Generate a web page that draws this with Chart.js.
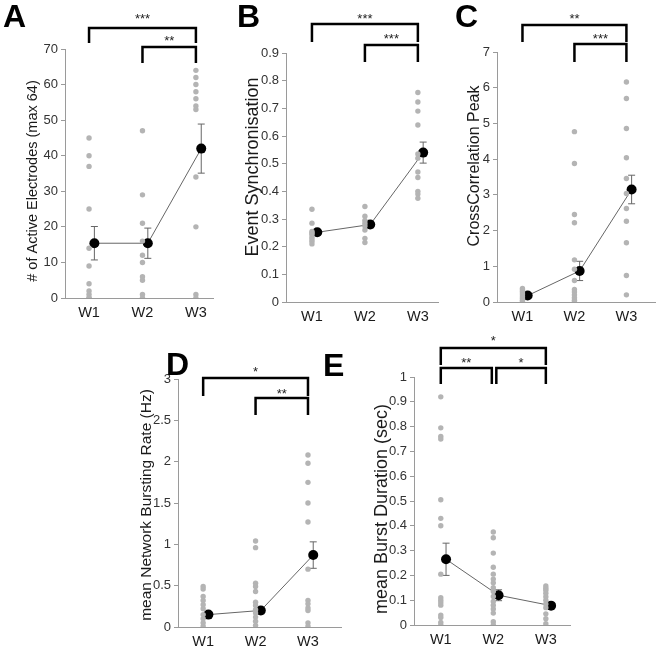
<!DOCTYPE html>
<html><head><meta charset="utf-8">
<script src="https://cdn.jsdelivr.net/npm/chart.js@4.4.1/dist/chart.umd.min.js"></script>
<style>
html,body{margin:0;padding:0;background:#fff;width:660px;height:648px;overflow:hidden}
canvas{position:absolute;left:0;top:0}
</style></head><body>
<canvas id="cA" width="660" height="648"></canvas>
<canvas id="cB" width="660" height="648"></canvas>
<canvas id="cC" width="660" height="648"></canvas>
<canvas id="cD" width="660" height="648"></canvas>
<canvas id="cE" width="660" height="648"></canvas>
<script>
// ---- data ----
const categories = ['W1', 'W2', 'W3'];

const aW1 = [45, 40, 37, 25, 14, 9, 4, 2, 1, 0, 0];
const aW2 = [47, 29, 21, 16, 12, 10, 6, 5, 1, 0];
const aW3 = [64, 62, 60, 58, 56, 54, 53, 34, 20, 1, 0];
const aMean = [15.4, 15.4, 42];
const aSem = [4.7, 4.25, 6.9];

const bW1 = [0.335, 0.285, 0.255, 0.25, 0.245, 0.235, 0.228, 0.22, 0.21];
const bW2 = [0.345, 0.31, 0.295, 0.285, 0.275, 0.26, 0.23, 0.215];
const bW3 = [0.757, 0.723, 0.69, 0.64, 0.535, 0.52, 0.47, 0.45, 0.4, 0.39, 0.375];
const bMean = [0.252, 0.28, 0.54];
const bSem = [0.008, 0.012, 0.038];

const cW1 = [0.38, 0.34, 0.3, 0.25, 0.2, 0.15, 0.1, 0.05, 0.02];
const cW2 = [4.77, 3.88, 2.45, 2.22, 1.18, 0.92, 0.6, 0.35, 0.28, 0.2, 0.12, 0.05, 0.01];
const cW3 = [6.16, 5.7, 4.86, 4.04, 3.46, 3.04, 2.62, 2.26, 1.66, 0.74, 0.2];
const cMean = [0.18, 0.87, 3.15];
const cSem = [0.04, 0.27, 0.4];

const dW1 = [0.49, 0.46, 0.37, 0.32, 0.27, 0.22, 0.15, 0.1, 0.05, 0.01];
const dW2 = [1.04, 0.96, 0.53, 0.49, 0.43, 0.3, 0.26, 0.21, 0.17, 0.12, 0.07, 0.02];
const dW3 = [2.08, 1.98, 1.75, 1.5, 1.27, 0.7, 0.32, 0.28, 0.23, 0.2, 0.05, 0.01];
const dMean = [0.15, 0.2, 0.87];
const dSem = [0.03, 0.04, 0.16];

const eW1 = [0.92, 0.795, 0.76, 0.75, 0.505, 0.43, 0.4, 0.205, 0.11, 0.1, 0.09, 0.08, 0.04, 0.03, 0.01, 0];
const eW2 = [0.375, 0.352, 0.29, 0.233, 0.205, 0.185, 0.17, 0.15, 0.135, 0.115, 0.095, 0.08, 0.065, 0.048, 0.013, 0];
const eW3 = [0.157, 0.148, 0.14, 0.128, 0.114, 0.1, 0.085, 0.07, 0.045, 0.025, 0.005];
const eMean = [0.265, 0.12, 0.078];
const eSem = [0.065, 0.022, 0.008];

// significance comparisons [from, to, label]
const aSig = [[1, 3, '***'], [2, 3, '**']];
const bSig = [[1, 3, '***'], [2, 3, '***']];
const cSig = [[1, 3, '**'], [2, 3, '***']];
const dSig = [[1, 3, '*'], [2, 3, '**']];
const eSig = [[1, 3, '*'], [1, 2, '**'], [2, 3, '*']];

// ---- layout / style ----
const FONT = '"Liberation Sans", Arial, Helvetica, sans-serif';
const MEAN_SHIFT = 0.1;

const panels = [
  {id:'cA', letter:'A', lx:3, ly:27, l:65, r:213, t:49, b:298, yw:44, xmin:0.55, xmax:3.32,
   ymax:70, step:10, title:'# of Active Electrodes (max 64)', tsize:14.5, tx:33, ty:181,
   groups:[aW1,aW2,aW3], mean:aMean, sem:aSem, sig:aSig,
   br:[{y:28, leg:43, sy:15}, {y:47, leg:63, sy:37}]},
  {id:'cB', letter:'B', lx:237, ly:27, l:286, r:438, t:53, b:302, yw:44, xmin:0.51, xmax:3.38,
   ymax:0.9, step:0.1, title:'Event Synchronisation', tsize:18, tx:253, ty:167,
   groups:[bW1,bW2,bW3], mean:bMean, sem:bSem, sig:bSig,
   br:[{y:24, leg:42, sy:15}, {y:45, leg:62, sy:35}]},
  {id:'cC', letter:'C', lx:455, ly:27, l:497, r:658, t:52, b:302, yw:34, xmin:0.51, xmax:3.55,
   ymax:7, step:1, title:'CrossCorrelation Peak', tsize:16, tx:475, ty:166,
   groups:[cW1,cW2,cW3], mean:cMean, sem:cSem, sig:cSig,
   br:[{y:25, leg:42, sy:15}, {y:44, leg:62, sy:35}]},
  {id:'cD', letter:'D', lx:166, ly:375, l:178, r:341, t:379, b:627, yw:40, xmin:0.52, xmax:3.63,
   ymax:3, step:0.5, title:'mean Network Bursting Rate (Hz)', tsize:15.5, tx:147, ty:505,
   groups:[dW1,dW2,dW3], mean:dMean, sem:dSem, sig:dSig,
   br:[{y:378, leg:396, sy:368}, {y:398, leg:415, sy:390}]},
  {id:'cE', letter:'E', lx:323, ly:376, l:414, r:570, t:377, b:625, yw:40, xmin:0.49, xmax:3.46,
   ymax:1, step:0.1, title:'mean Burst Duration (sec)', tsize:18, tx:382, ty:509,
   groups:[eW1,eW2,eW3], mean:eMean, sem:eSem, sig:eSig,
   br:[{y:348, leg:365, sy:337}, {y:368, leg:384, sy:359, gap:1.5}, {y:368, leg:384, sy:359, gap:1.5}]}
];

const XH = 30;

const overlay = {
  id: 'overlay',
  beforeDatasetDraw(chart, args) {
    if (args.index !== 1) return;
    const P = chart.options.plugins.overlay.panel;
    const xs = chart.scales.x, ys = chart.scales.y, ctx = chart.ctx;
    ctx.save();
    ctx.strokeStyle = '#666';
    ctx.lineWidth = 1;
    P.mean.forEach((m, i) => {
      const x = xs.getPixelForValue(i + 1 + MEAN_SHIFT);
      const y1 = ys.getPixelForValue(m - P.sem[i]);
      const y2 = ys.getPixelForValue(m + P.sem[i]);
      ctx.beginPath();
      ctx.moveTo(x, y1); ctx.lineTo(x, y2);
      ctx.moveTo(x - 3.5, y1); ctx.lineTo(x + 3.5, y1);
      ctx.moveTo(x - 3.5, y2); ctx.lineTo(x + 3.5, y2);
      ctx.stroke();
    });
    ctx.restore();
  },
  afterDraw(chart) {
    const P = chart.options.plugins.overlay.panel;
    const xs = chart.scales.x, ctx = chart.ctx;
    ctx.save();
    // y-axis title
    ctx.save();
    ctx.translate(P.tx, P.ty);
    ctx.rotate(-Math.PI / 2);
    ctx.fillStyle = '#1a1a1a';
    ctx.font = P.tsize + 'px ' + FONT;
    ctx.textAlign = 'center';
    ctx.textBaseline = 'middle';
    ctx.fillText(P.title, 0, 0);
    ctx.restore();
    // panel letter
    ctx.fillStyle = '#000';
    ctx.font = 'bold 32px ' + FONT;
    ctx.textAlign = 'left';
    ctx.textBaseline = 'alphabetic';
    ctx.fillText(P.letter, P.lx, P.ly);
    // brackets
    ctx.strokeStyle = '#000';
    ctx.lineWidth = 2.5;
    ctx.lineCap = 'butt';
    P.sig.forEach((s, k) => {
      const B = P.br[k];
      let x1 = xs.getPixelForValue(s[0]);
      let x2 = xs.getPixelForValue(s[1]);
      if (B.gap) {
        if (s[0] === 2) x1 += B.gap + 1.5;
        if (s[1] === 2) x2 -= B.gap;
      }
      ctx.beginPath();
      ctx.moveTo(x1, B.leg); ctx.lineTo(x1, B.y); ctx.lineTo(x2, B.y); ctx.lineTo(x2, B.leg);
      ctx.stroke();
      ctx.fillStyle = '#222';
      ctx.font = '13px ' + FONT;
      ctx.textAlign = 'center';
      ctx.textBaseline = 'alphabetic';
      ctx.fillText(s[2], (x1 + x2) / 2, B.sy + 8);
    });
    ctx.restore();
  }
};

function fmt(v) { return String(Math.round(v * 10) / 10); }

panels.forEach(P => {
  const pts = [];
  P.groups.forEach((g, i) => g.forEach(v => pts.push({x: i + 1, y: v})));
  new Chart(document.getElementById(P.id), {
    type: 'scatter',
    data: {datasets: [
      {data: pts, showLine: false, pointRadius: 2.7, pointBackgroundColor: '#b4b4b4', pointBorderWidth: 0},
      {data: P.mean.map((m, i) => ({x: i + 1 + MEAN_SHIFT, y: m})), showLine: true,
       borderColor: '#666', borderWidth: 1, pointRadius: 5, pointBackgroundColor: '#000', pointBorderWidth: 0}
    ]},
    options: {
      responsive: false, animation: false, events: [],
      layout: {padding: {left: P.l - P.yw, top: P.t, right: 660 - P.r, bottom: 648 - P.b - XH}},
      plugins: {legend: {display: false}, tooltip: {enabled: false}, overlay: {panel: P}},
      scales: {
        x: {type: 'linear', min: P.xmin, max: P.xmax,
            afterBuildTicks: s => { s.ticks = [1, 2, 3].map(v => ({value: v})); },
            afterFit: s => { s.height = XH; },
            grid: {display: false, drawTicks: false, tickLength: 0}, border: {color: '#9a9a9a', width: 1},
            ticks: {callback: v => categories[v - 1], font: {size: 14.5, family: FONT}, color: '#1a1a1a', padding: 6, autoSkip: false, maxRotation: 0}},
        y: {min: 0, max: P.ymax,
            afterFit: s => { s.width = P.yw; },
            grid: {drawOnChartArea: false, drawTicks: true, tickLength: 4, color: '#9a9a9a'},
            border: {color: '#9a9a9a', width: 1},
            ticks: {stepSize: P.step, callback: v => fmt(v), font: {size: 13, family: FONT}, color: '#333', padding: 3}}
      }
    },
    plugins: [overlay]
  });
});
</script>
</body></html>
